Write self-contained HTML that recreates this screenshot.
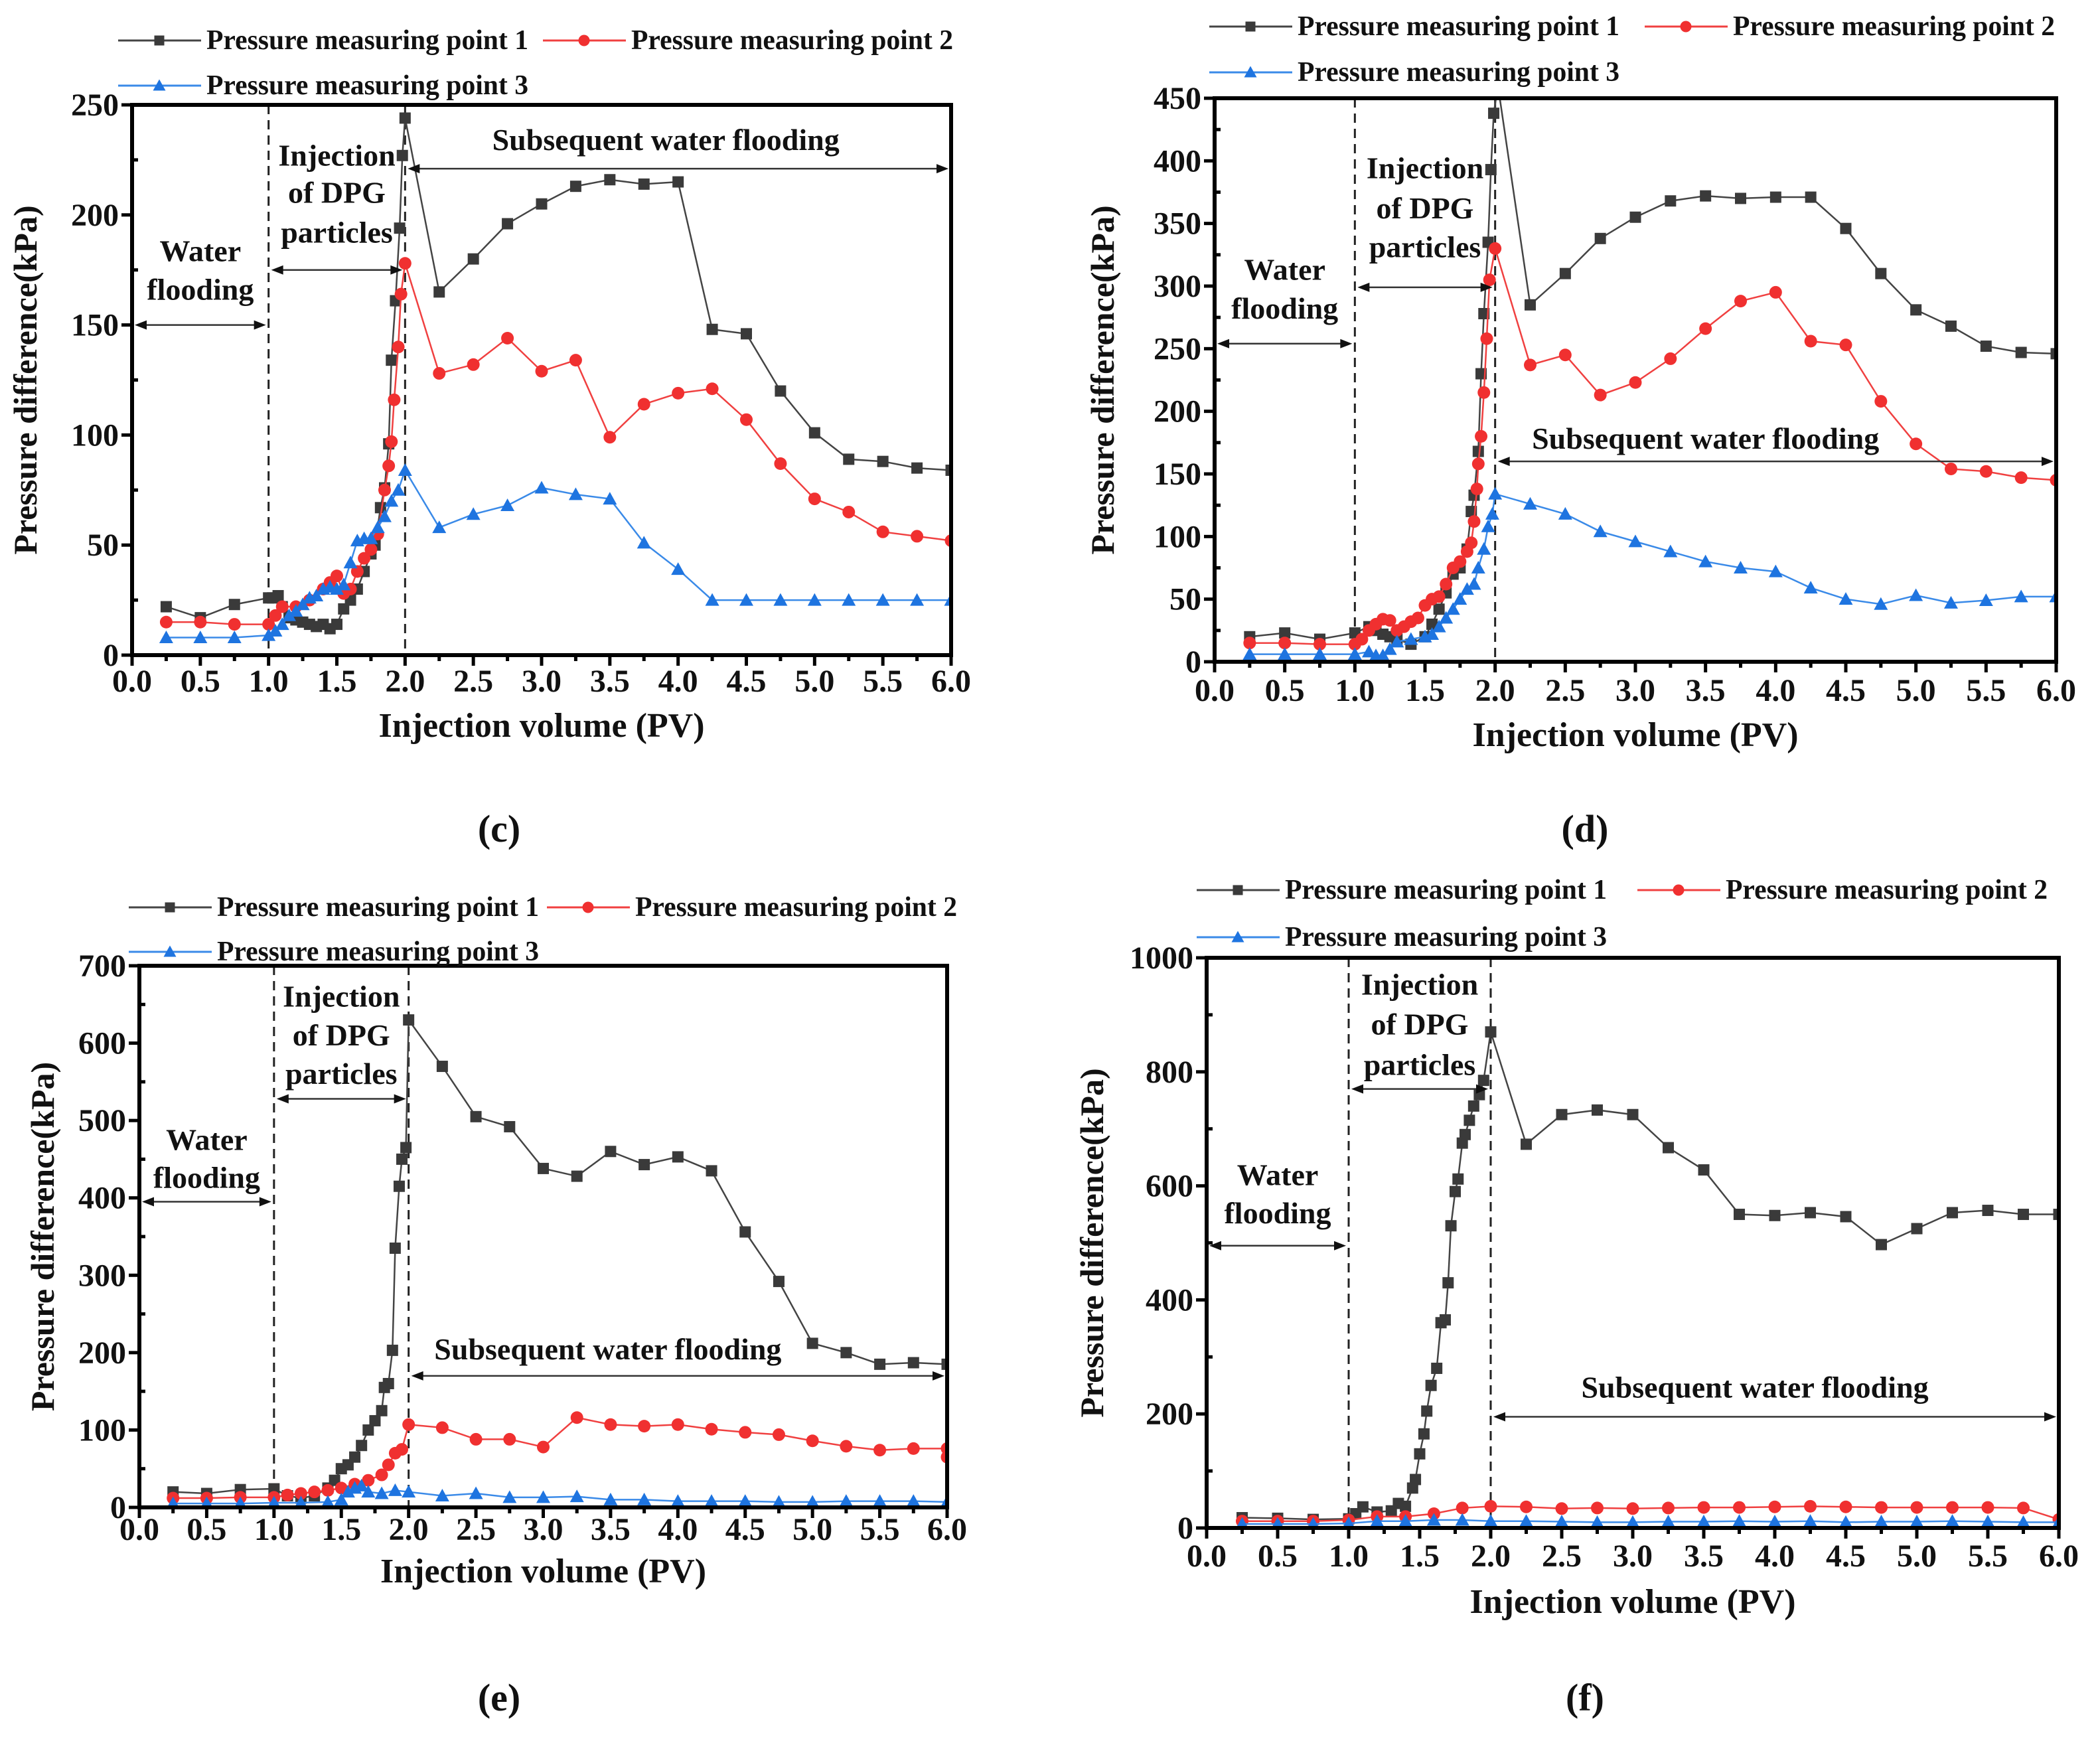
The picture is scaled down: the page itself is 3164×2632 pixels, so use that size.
<!DOCTYPE html>
<html><head><meta charset="utf-8">
<style>
html,body{margin:0;padding:0;background:#fff;}
svg{display:block;}
svg text{font-family:"Liberation Serif","Times New Roman",serif;font-weight:bold;}
</style></head>
<body>
<svg id="fig" width="3164" height="2632" viewBox="0 0 3164 2632" xmlns="http://www.w3.org/2000/svg" font-family="Liberation Serif, serif" font-weight="bold">
</svg>
<script>
// ---------- data: panel (c) ----------
const cX1=[0.25,0.5,0.75,1.0,1.03,1.07,1.1,1.15,1.2,1.25,1.3,1.35,1.4,1.45,1.5,1.55,1.6,1.65,1.7,1.75,1.78,1.82,1.85,1.88,1.9,1.93,1.96,1.98,2.0,2.25,2.5,2.75,3.0,3.25,3.5,3.75,4.0,4.25,4.5,4.75,5.0,5.25,5.5,5.75,6.0];
const cY1=[22,17,23,26,26,27,22,17,16,15,14,13,14,12,14,21,25,30,38,46,50,67,76,96,134,161,194,227,244,165,180,196,205,213,216,214,215,148,146,120,101,89,88,85,84];
const cX2=[0.25,0.5,0.75,1.0,1.05,1.1,1.2,1.3,1.4,1.45,1.5,1.55,1.6,1.65,1.7,1.75,1.8,1.85,1.88,1.9,1.92,1.95,1.97,2.0,2.25,2.5,2.75,3.0,3.25,3.5,3.75,4.0,4.25,4.5,4.75,5.0,5.25,5.5,5.75,6.0];
const cY2=[15,15,14,14,18,22,22,25,30,33,36,28,30,38,44,48,55,75,86,97,116,140,164,178,128,132,144,129,134,99,114,119,121,107,87,71,65,56,54,52];
const cX3=[0.25,0.5,0.75,1.0,1.05,1.1,1.15,1.2,1.25,1.3,1.35,1.4,1.45,1.5,1.55,1.6,1.65,1.7,1.75,1.8,1.85,1.9,1.95,2.0,2.25,2.5,2.75,3.0,3.25,3.5,3.75,4.0,4.25,4.5,4.75,5.0,5.25,5.5,5.75,6.0];
const cY3=[8,8,8,9,11,14,18,20,23,26,27,30,31,30,32,42,52,53,53,58,63,70,75,84,58,64,68,76,73,71,51,39,25,25,25,25,25,25,25,25];
// ---------- data: panel (d) ----------
const dX1=[0.25,0.5,0.75,1.0,1.1,1.15,1.2,1.25,1.3,1.4,1.5,1.55,1.6,1.65,1.7,1.75,1.8,1.83,1.85,1.88,1.9,1.92,1.95,1.97,1.99,2.02,2.25,2.5,2.75,3.0,3.25,3.5,3.75,4.0,4.25,4.5,4.75,5.0,5.25,5.5,5.75,6.0];
const dY1=[20,23,18,23,28,25,22,20,18,14,20,30,42,55,70,75,90,120,133,168,230,278,335,393,438,460,285,310,338,355,368,372,370,371,371,346,310,281,268,252,247,246];
const dX2=[0.25,0.5,0.75,1.0,1.05,1.1,1.15,1.2,1.25,1.3,1.35,1.4,1.45,1.5,1.55,1.6,1.65,1.7,1.75,1.8,1.83,1.85,1.87,1.88,1.9,1.92,1.94,1.96,2.0,2.25,2.5,2.75,3.0,3.25,3.5,3.75,4.0,4.25,4.5,4.75,5.0,5.25,5.5,5.75,6.0];
const dY2=[15,15,14,14,18,25,30,34,33,25,28,32,35,45,50,52,62,75,80,88,95,112,138,158,180,215,258,305,330,237,245,213,223,242,266,288,295,256,253,208,174,154,152,147,145];
const dX3=[0.25,0.5,0.75,1.0,1.1,1.15,1.2,1.25,1.3,1.4,1.5,1.55,1.6,1.65,1.7,1.75,1.8,1.85,1.88,1.92,1.95,1.98,2.0,2.25,2.5,2.75,3.0,3.25,3.5,3.75,4.0,4.25,4.5,4.75,5.0,5.25,5.5,5.75,6.0];
const dY3=[6,6,6,6,8,5,5,10,16,18,20,22,28,35,42,50,58,62,75,90,108,118,134,126,118,104,96,88,80,75,72,59,50,46,53,47,49,52,52];
// ---------- data: panel (e) ----------
const eX1=[0.25,0.5,0.75,1.0,1.1,1.2,1.3,1.4,1.45,1.5,1.55,1.6,1.65,1.7,1.75,1.8,1.82,1.85,1.88,1.9,1.93,1.95,1.98,2.0,2.25,2.5,2.75,3.0,3.25,3.5,3.75,4.0,4.25,4.5,4.75,5.0,5.25,5.5,5.75,6.0];
const eY1=[20,18,23,24,15,12,15,25,35,50,55,65,80,100,112,125,155,160,203,335,415,450,465,630,570,505,492,438,428,460,443,453,435,356,292,212,200,185,187,185];
const eX2=[0.25,0.5,0.75,1.0,1.1,1.2,1.3,1.4,1.5,1.6,1.7,1.8,1.85,1.9,1.95,2.0,2.25,2.5,2.75,3.0,3.25,3.5,3.75,4.0,4.25,4.5,4.75,5.0,5.25,5.5,5.75,6.0,6.0];
const eY2=[12,12,13,13,16,18,20,22,25,30,35,42,55,70,75,107,103,88,88,78,116,107,105,107,101,97,94,86,79,74,76,76,65];
const eX3=[0.25,0.5,0.75,1.0,1.2,1.4,1.5,1.55,1.6,1.65,1.7,1.8,1.9,2.0,2.25,2.5,2.75,3.0,3.25,3.5,3.75,4.0,4.25,4.5,4.75,5.0,5.25,5.5,5.75,6.0];
const eY3=[5,5,5,6,6,7,10,20,25,28,20,18,22,20,15,18,13,13,14,10,10,8,8,8,7,7,8,8,8,7];
// ---------- data: panel (f) ----------
const fX1=[0.25,0.5,0.75,1.0,1.05,1.1,1.2,1.3,1.35,1.4,1.45,1.47,1.5,1.53,1.55,1.58,1.62,1.65,1.68,1.7,1.72,1.75,1.77,1.8,1.82,1.85,1.88,1.92,1.95,2.0,2.25,2.5,2.75,3.0,3.25,3.5,3.75,4.0,4.25,4.5,4.75,5.0,5.25,5.5,5.75,6.0];
const fY1=[18,17,15,16,25,37,28,30,43,38,70,85,130,165,205,250,280,360,365,430,530,590,612,675,690,715,740,760,785,870,673,725,733,725,667,628,550,548,553,546,497,525,553,557,550,550];
const fX2=[0.25,0.5,0.75,1.0,1.2,1.4,1.6,1.8,2.0,2.25,2.5,2.75,3.0,3.25,3.5,3.75,4.0,4.25,4.5,4.75,5.0,5.25,5.5,5.75,6.0];
const fY2=[12,12,12,14,20,20,25,35,38,37,34,35,34,35,36,36,37,38,37,36,36,36,36,35,15];
const fX3=[0.25,0.5,0.75,1.0,1.2,1.4,1.6,1.8,2.0,2.25,2.5,2.75,3.0,3.25,3.5,3.75,4.0,4.25,4.5,4.75,5.0,5.25,5.5,5.75,6.0];
const fY3=[7,7,7,8,12,12,14,14,12,12,11,10,10,11,11,12,11,12,10,11,11,12,11,10,10];
// ---------- tick labels ----------
const xTicks=["0.0","0.5","1.0","1.5","2.0","2.5","3.0","3.5","4.0","4.5","5.0","5.5","6.0"];
const cYTicks=[0,50,100,150,200,250];
const dYTicks=[0,50,100,150,200,250,300,350,400,450];
const eYTicks=[0,100,200,300,400,500,600,700];
const fYTicks=[0,200,400,600,800,1000];
const seriesNames=["Pressure measuring point 1","Pressure measuring point 2","Pressure measuring point 3"];

const NS="http://www.w3.org/2000/svg";
const svg=document.getElementById('fig');
const FF='"Liberation Serif", "Times New Roman", serif';
function mk(tag,attrs,parent){const e=document.createElementNS(NS,tag);for(const k in attrs)e.setAttribute(k,attrs[k]);if(tag==='text'){e.setAttribute('font-family',FF);e.setAttribute('font-weight','bold');e.style.fontFamily=FF;}(parent||svg).appendChild(e);return e;}
const COL=["#3a3a3a","#f03030","#1e74e0"];
const LCOL=["#444","#f04040","#3a8ae8"];

const panels=[
 {id:'c',L:199,R:1433,T:158,B:987,max:250,yt:cYTicks,xs:[cX1,cX2,cX3],ys:[cY1,cY2,cY3],
  leg:{x:178,y1:61,x2:818,y2:129},wf:[183.5,166,150],inj:[227,210,192,175],sub:[3.91,234,221],
  tickY:1042,xtY:1110,ytX:55,lab:[752,1268]},
 {id:'d',L:1830,R:3098,T:148,B:997,max:450,yt:dYTicks,xs:[dX1,dX2,dX3],ys:[dY1,dY2,dY3],
  leg:{x:1822,y1:40,x2:2478,y2:109},wf:[313,282,254],inj:[394,362,331,299],sub:[3.5,178,160],
  tickY:1056,xtY:1124,ytX:1678,lab:[2388,1268]},
 {id:'e',L:210,R:1427,T:1455,B:2271,max:700,yt:eYTicks,xs:[eX1,eX2,eX3],ys:[eY1,eY2,eY3],
  leg:{x:194,y1:1367,x2:824,y2:1434},wf:[475,426,395],inj:[660,610,560,528],sub:[3.48,204,170],
  tickY:2320,xtY:2384,ytX:81,lab:[752,2577]},
 {id:'f',L:1818,R:3102,T:1443,B:2302,max:1000,yt:fYTicks,xs:[fX1,fX2,fX3],ys:[fY1,fY2,fY3],
  leg:{x:1803,y1:1341,x2:2467,y2:1412},wf:[619,552,495],inj:[953,883,812,770],sub:[3.86,246,195],
  tickY:2360,xtY:2430,ytX:1662,lab:[2388,2577]}
];

function marker(g,k,x,y,s){
  let m;
  if(k===0){m=mk('rect',{x:x-s/2,y:y-s/2,width:s,height:s,fill:COL[0]},g);}
  else if(k===1){m=mk('circle',{cx:x,cy:y,r:s/2+1,fill:COL[1]},g);}
  else {m=mk('polygon',{points:`${x},${y-s/2-2} ${x-s/2-2},${y+s/2} ${x+s/2+2},${y+s/2}`,fill:COL[2]},g);}
  return m;
}
function arrowH(g,x1,x2,y){
  mk('line',{x1:x1+6,y1:y,x2:x2-6,y2:y,stroke:'#333','stroke-width':2.5},g);
  mk('polygon',{points:`${x1},${y} ${x1+18},${y-7} ${x1+18},${y+7}`,fill:'#111'},g);
  mk('polygon',{points:`${x2},${y} ${x2-18},${y-7} ${x2-18},${y+7}`,fill:'#111'},g);
}

panels.forEach(p=>{
  const g=mk('g',{});
  
  
  const sx=v=>p.L+(p.R-p.L)*v/6;
  const sy=v=>p.B-(p.B-p.T)*v/p.max;
  const clipId='clip'+p.id;
  const cp=mk('clipPath',{id:clipId},g);
  mk('rect',{x:p.L,y:p.T,width:p.R-p.L,height:p.B-p.T},cp);
  [1,2].forEach(v=>{
    const dl=mk('line',{x1:sx(v),y1:p.T,x2:sx(v),y2:p.B,stroke:'#222','stroke-width':3,'stroke-dasharray':'14,9'},g);
    
    
  });
  for(let k=0;k<3;k++){
    const sg=mk('g',{'clip-path':`url(#${clipId})`},g);
    
    
    const xs=p.xs[k], ys=p.ys[k];
    const pts=xs.map((x,i)=>sx(x)+','+sy(ys[i])).join(' ');
    mk('polyline',{points:pts,fill:'none',stroke:LCOL[k],'stroke-width':2.5},sg);
    xs.forEach((x,i)=>{marker(sg,k,sx(x),sy(ys[i]),17);});
  }
  const box=mk('rect',{x:p.L,y:p.T,width:p.R-p.L,height:p.B-p.T,fill:'none',stroke:'#000','stroke-width':6},g);
  
  
  const xg=mk('g',{},g);
  
  
  for(let i=0;i<=24;i++){
    const v=i*0.25,x=sx(v),major=i%2===0;
    mk('line',{x1:x,y1:p.B,x2:x,y2:p.B+(major?16:9),stroke:'#000','stroke-width':5},xg);
  }
  xTicks.forEach((t,i)=>{
    const tx=mk('text',{x:sx(i*0.5),y:p.tickY,'font-size':48,'text-anchor':'middle',fill:'#111'},xg);
    tx.textContent=t;
  });
  const xt=mk('text',{x:(p.L+p.R)/2,y:p.xtY,'font-size':52,'text-anchor':'middle',fill:'#111'},g);
  xt.textContent='Injection volume (PV)';
  
  
  const yg=mk('g',{},g);
  
  
  const step=p.yt[1]-p.yt[0];
  p.yt.forEach((v,i)=>{
    const y=sy(v);
    mk('line',{x1:p.L-16,y1:y,x2:p.L,y2:y,stroke:'#000','stroke-width':5},yg);
    if(i<p.yt.length-1){const ym=sy(v+step/2);mk('line',{x1:p.L,y1:ym,x2:p.L+9,y2:ym,stroke:'#000','stroke-width':5},yg);}
    const tx=mk('text',{x:p.L-20,y:y+16,'font-size':48,'text-anchor':'end',fill:'#111'},yg);
    tx.textContent=v;
  });
  const yt=mk('text',{x:p.ytX,y:(p.T+p.B)/2,'font-size':50,'text-anchor':'middle',fill:'#111',transform:`rotate(-90 ${p.ytX} ${(p.T+p.B)/2})`},g);
  yt.textContent='Pressure difference(kPa)';
  
  
  const ag=mk('g',{},g);
  
  
  const t1=mk('text',{x:sx(0.5),y:sy(p.wf[0])+15,'font-size':46,'text-anchor':'middle',fill:'#111'},ag);t1.textContent='Water';
  const t2=mk('text',{x:sx(0.5),y:sy(p.wf[1])+15,'font-size':46,'text-anchor':'middle',fill:'#111'},ag);t2.textContent='flooding';
  arrowH(ag,sx(0)+4,sx(1)-4,sy(p.wf[2]));
  const i1=mk('text',{x:sx(1.5),y:sy(p.inj[0])+15,'font-size':46,'text-anchor':'middle',fill:'#111'},ag);i1.textContent='Injection';
  const i2=mk('text',{x:sx(1.5),y:sy(p.inj[1])+15,'font-size':46,'text-anchor':'middle',fill:'#111'},ag);i2.textContent='of DPG';
  const i3=mk('text',{x:sx(1.5),y:sy(p.inj[2])+15,'font-size':46,'text-anchor':'middle',fill:'#111'},ag);i3.textContent='particles';
  arrowH(ag,sx(1)+4,sx(2)-4,sy(p.inj[3]));
  const s1=mk('text',{x:sx(p.sub[0]),y:sy(p.sub[1])+15,'font-size':46,'text-anchor':'middle',fill:'#111'},ag);s1.textContent='Subsequent water flooding';
  arrowH(ag,sx(2)+4,sx(6)-4,sy(p.sub[2]));
  const lg=mk('g',{},g);
  
  
  const pos=[[p.leg.x,p.leg.y1],[p.leg.x2,p.leg.y1],[p.leg.x,p.leg.y2]];
  pos.forEach((q,k)=>{
    const eg=mk('g',{},lg);
    
    
    mk('line',{x1:q[0],y1:q[1],x2:q[0]+125,y2:q[1],stroke:LCOL[k],'stroke-width':3},eg);
    marker(eg,k,q[0]+62,q[1],15);
    const tx=mk('text',{x:q[0]+133,y:q[1]+13,'font-size':42,fill:'#111',textLength:485,lengthAdjust:'spacingAndGlyphs'},eg);
    tx.textContent=seriesNames[k];
  });
  const pl=mk('text',{x:p.lab[0],y:p.lab[1],'font-size':58,'text-anchor':'middle',fill:'#111'},g);
  pl.textContent='('+p.id+')';
  
  
});
</script>
</body></html>
